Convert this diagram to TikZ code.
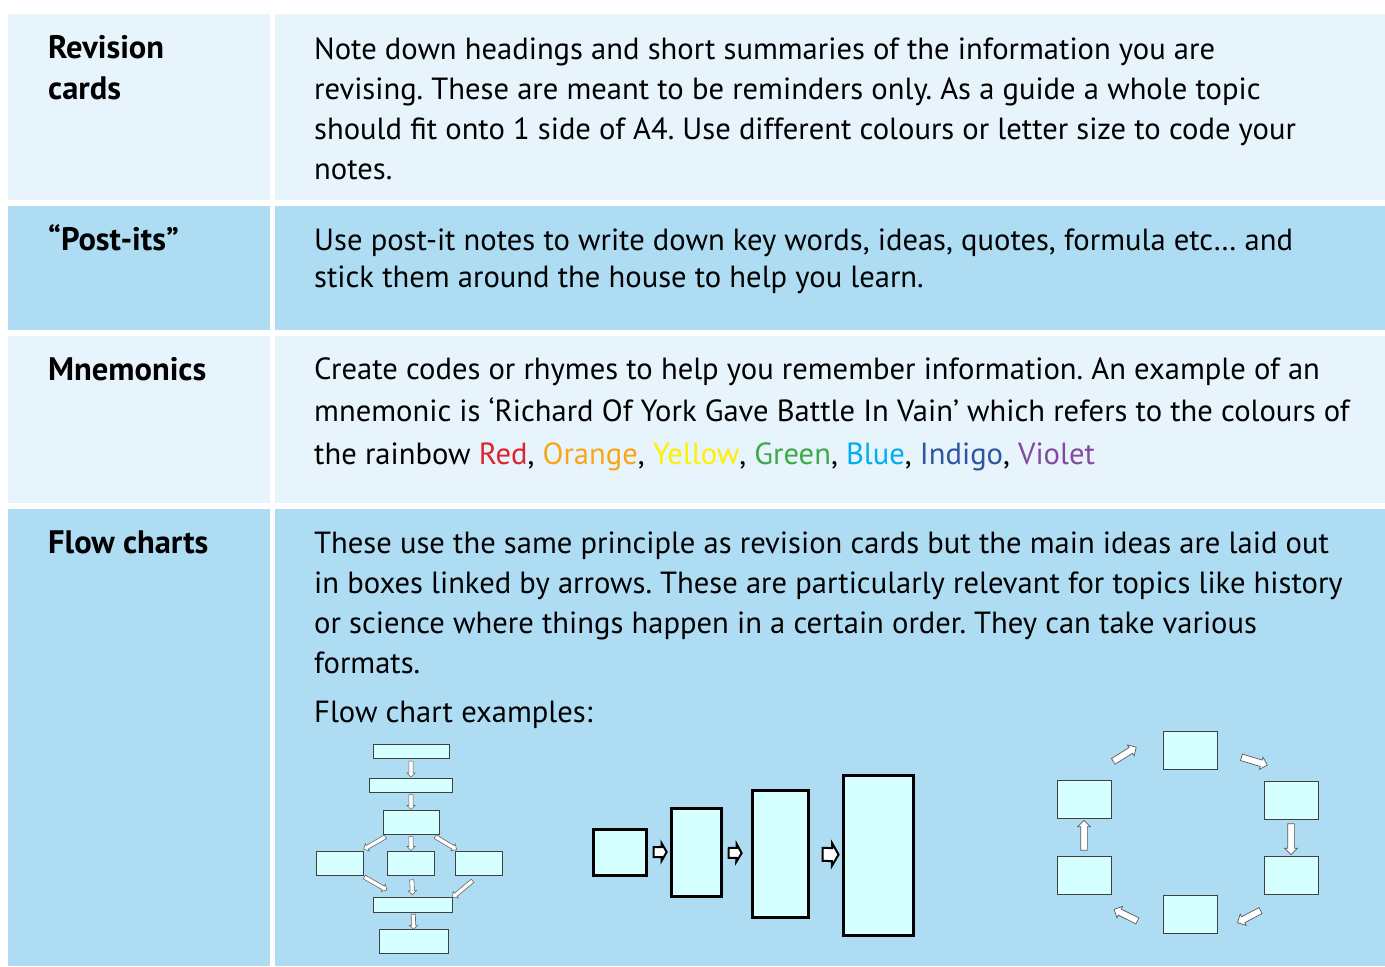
\documentclass[tikz,border=0pt]{standalone}
\usepackage{fontspec}
\setmainfont{PT Sans}
\usetikzlibrary{shapes.arrows}
\definecolor{cellpale}{RGB}{231,244,252}
\definecolor{celldeep}{RGB}{173,220,243}
\definecolor{boxfill}{RGB}{214,255,255}
\definecolor{rbred}{RGB}{219,36,44}
\definecolor{rborange}{RGB}{250,165,25}
\definecolor{rbyellow}{RGB}{255,240,0}
\definecolor{rbgreen}{RGB}{60,170,72}
\definecolor{rbblue}{RGB}{0,174,239}
\definecolor{rbindigo}{RGB}{45,85,160}
\definecolor{rbviolet}{RGB}{130,75,160}
\frenchspacing
\begin{document}
\begin{tikzpicture}[x=1pt, y=-1pt,
  head/.style={anchor=base west, inner sep=0, align=left, font=\fontsize{32.5}{41}\selectfont\bfseries},
  body/.style={anchor=base west, inner sep=0, align=left, font=\fontsize{30.6}{40}\selectfont},
  thinbox/.style={draw=black!75, line width=.8pt, fill=boxfill, inner sep=0},
  thickbox/.style={draw=black, line width=3pt, fill=boxfill, inner sep=0},
  thinarrow/.style={single arrow, draw=black!60, fill=white, line width=.6pt, inner xsep=0,
    inner ysep=1.8pt, single arrow head extend=2pt, sloped, allow upside down},
  midarrow/.style={single arrow, draw=black!65, fill=white, line width=.7pt, inner xsep=0,
    inner ysep=3pt, single arrow head extend=3pt, sloped, allow upside down},
  boldarrow/.style={single arrow, draw=black, fill=white, line width=2pt, inner xsep=0,
    single arrow tip angle=120, sloped, allow upside down}]
\useasboundingbox (0,0) rectangle (1385,967);
\fill[white] (0,0) rectangle (1385,967);
% table cells
\foreach \ya/\yb/\c in {14/200/cellpale, 206/330/celldeep, 336/503/cellpale, 509/966/celldeep}
{
    \fill[\c] (8,\ya) rectangle (270,\yb);
    \fill[\c] (275,\ya) rectangle (1385,\yb);
}

% base anchor = baseline of the last line
\node[head] (revhead) at (48,99) {Revision\\cards};
\node[head] (posthead) at (48,250) {“Post-its”};
\node[head] (mnemhead) at (48,380) {Mnemonics};
\node[head] (flowhead) at (48,553) {Flow charts};

\node[body] (revtext) at (314,179) {Note down headings and short summaries of the information you are\\
revising. These are meant to be reminders only. As a guide a whole topic\\
should fit onto 1 side of A4. Use different colours or letter size to code your\\
notes.};
\node[body, font=\fontsize{30.6}{37}\selectfont] (posttext) at (314,287) {Use post-it notes to write down key words, ideas, quotes, formula etc… and\\
stick them around the house to help you learn.};
\node[body, font=\fontsize{30.6}{42.5}\selectfont] (mnemtext) at (314,464) {Create codes or rhymes to help you remember information. An example of an\\
mnemonic is ‘Richard Of York Gave Battle In Vain’ which refers to the colours of\\
the rainbow \textcolor{rbred}{Red}, \textcolor{rborange}{Orange}, \textcolor{rbyellow}{Yellow}, \textcolor{rbgreen}{Green}, \textcolor{rbblue}{Blue}, \textcolor{rbindigo}{Indigo}, \textcolor{rbviolet}{Violet}};
\node[body] (flowtext) at (314,673) {These use the same principle as revision cards but the main ideas are laid out\\
in boxes linked by arrows. These are particularly relevant for topics like history\\
or science where things happen in a certain order. They can take various\\
formats.};
\node[body] (flowex) at (314,722) {Flow chart examples:};

% example 1: branching chart
\node[thinbox, minimum width=76pt, minimum height=14pt] (a1) at (411,751) {};
\node[thinbox, minimum width=83pt, minimum height=14pt] (b1) at (411,785) {};
\node[thinbox, minimum width=56pt, minimum height=24pt] (c1) at (411,822) {};
\node[thinbox, minimum width=47pt, minimum height=24pt] (d1) at (340,863) {};
\node[thinbox, minimum width=47pt, minimum height=24pt] (e1) at (411,863) {};
\node[thinbox, minimum width=47pt, minimum height=24pt] (f1) at (479,863) {};
\node[thinbox, minimum width=79pt, minimum height=15pt] (g1) at (413,905) {};
\node[thinbox, minimum width=69pt, minimum height=24pt] (h1) at (414,941) {};
\path (a1) -- node[thinarrow, midway, minimum height=16pt] (ab1) {} (b1);
\path (b1) -- node[thinarrow, midway, minimum height=15pt] (bc1) {} (c1);
\path (c1) -- node[thinarrow, midway, minimum height=25pt] (cd1) {} (d1);
\path (c1) -- node[thinarrow, midway, minimum height=14pt] (ce1) {} (e1);
\path (c1) -- node[thinarrow, midway, minimum height=25pt] (cf1) {} (f1);
\path (d1) -- node[thinarrow, pos=.35, minimum height=26pt] (dg1) {} (g1);
\path (e1) -- node[thinarrow, midway, minimum height=15pt] (eg1) {} (g1);
\path (f1.south) -- node[thinarrow, pos=.6, minimum height=26pt] (fg1) {} (g1.north east);
\path (g1) -- node[thinarrow, midway, minimum height=15pt] (gh1) {} (h1);

% example 2: growing boxes
\node[thickbox, minimum width=53pt, minimum height=46pt] (p2) at (620,852) {};
\node[thickbox, minimum width=50pt, minimum height=88pt] (q2) at (696,852) {};
\node[thickbox, minimum width=56pt, minimum height=127pt] (r2) at (780,854) {};
\node[thickbox, minimum width=70pt, minimum height=160pt] (s2) at (878,855) {};
\path (p2) -- node[boldarrow, midway, minimum height=13pt, inner ysep=4pt, single arrow head extend=4pt] (pq2) {} (q2);
\path (q2) -- node[boldarrow, pos=.4, minimum height=13pt, inner ysep=4pt, single arrow head extend=4pt] (qr2) {} (r2);
\path (r2) -- node[boldarrow, pos=.6, minimum height=16pt, inner ysep=5.5pt, single arrow head extend=5pt] (rs2) {} (s2);

% example 3: cycle
\node[thinbox, minimum width=54pt, minimum height=38pt] (t3) at (1190,750) {};
\node[thinbox, minimum width=54pt, minimum height=38pt] (u3) at (1291,800) {};
\node[thinbox, minimum width=54pt, minimum height=38pt] (v3) at (1291,875) {};
\node[thinbox, minimum width=54pt, minimum height=38pt] (w3) at (1190,914) {};
\node[thinbox, minimum width=54pt, minimum height=38pt] (x3) at (1084,875) {};
\node[thinbox, minimum width=54pt, minimum height=38pt] (y3) at (1084,799) {};
\path (y3.north) -- node[midarrow, midway, minimum height=27pt] (yt3) {} (t3.north west);
\path (t3.east) -- node[midarrow, pos=.35, minimum height=27pt] (tu3) {} (u3.north east);
\path (u3) -- node[midarrow, midway, minimum height=31pt] (uv3) {} (v3);
\path (v3.south) -- node[midarrow, pos=.55, minimum height=26pt] (vw3) {} (w3.south east);
\path (w3.south west) -- node[midarrow, pos=.45, minimum height=26pt] (wx3) {} (x3.south);
\path (x3) -- node[midarrow, midway, minimum height=30pt] (xy3) {} (y3);
\end{tikzpicture}
\end{document}
